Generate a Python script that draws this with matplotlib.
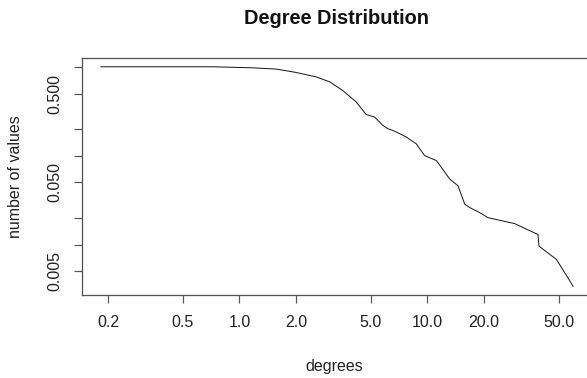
import matplotlib
matplotlib.use("Agg")
import matplotlib.pyplot as plt

# complementary cumulative degree distribution (log-log)
degrees = [0.183, 0.718, 1.17, 1.57, 2.0, 2.56, 3.02, 3.53, 4.18, 4.73, 5.24,
           5.80, 6.17, 6.56, 7.12, 7.73, 8.73, 9.68, 11.17, 11.88, 13.15, 14.56,
           15.81, 16.8, 19.0, 21.0, 29.2, 33.7, 38.8, 39.3, 48.7, 59.7]
fraction = [1.0, 1.0, 0.974, 0.942, 0.864, 0.770, 0.677, 0.545, 0.402, 0.290,
            0.272, 0.219, 0.201, 0.192, 0.177, 0.162, 0.136, 0.100, 0.0881,
            0.0739, 0.0547, 0.0459, 0.0285, 0.0261, 0.0229, 0.0201, 0.0172,
            0.0149, 0.0130, 0.0096, 0.0068, 0.0034]

x_ticks = [0.2, 0.5, 1, 2, 5, 10, 20, 50]
x_tick_labels = ["0.2", "0.5", "1.0", "2.0", "5.0", "10.0", "20.0", "50.0"]
y_ticks = [0.005, 0.01, 0.02, 0.05, 0.1, 0.2, 0.5, 1.0]
y_tick_labels = ["0.005", "", "", "0.050", "", "", "0.500", ""]

plt.rcParams["font.family"] = ["Liberation Sans", "DejaVu Sans"]

W, H = 587, 378
fig = plt.figure(figsize=(W / 72, H / 72), dpi=72)
# plot box runs a little past the right edge of the image
left, right, top, bottom = 82, 592, 58, 295
ax = fig.add_axes([left / W, 1 - bottom / H, (right - left) / W, (bottom - top) / H])

ax.plot(degrees, fraction, color="#1a1a1a", lw=1.0)
ax.set_xscale("log")
ax.set_yscale("log")
ax.margins(x=0.04, y=0.04)

ax.set_xticks(x_ticks)
ax.set_xticklabels(x_tick_labels)
ax.set_yticks(y_ticks)
ax.set_yticklabels(y_tick_labels, rotation=90, va="center")
ax.minorticks_off()
ax.tick_params(axis="both", length=8, width=1.2, color="#555555",
               labelsize=16, labelcolor="#222222")
ax.tick_params(axis="x", pad=12)
ax.tick_params(axis="y", pad=12)

for sp in ax.spines.values():
    sp.set_color("#555555")
    sp.set_linewidth(1.3)

ax.set_xlabel("degrees", fontsize=16, color="#222222", va="center")
ax.xaxis.set_label_coords(0.494, -(367 - bottom) / (bottom - top))
ax.set_ylabel("number of values", fontsize=16, color="#222222", va="center")
ax.yaxis.set_label_coords((15 - left) / (right - left), 0.5)

fig.text(336 / W, 1 - 18 / H, "Degree Distribution", ha="center", va="center",
         fontsize=20, fontweight="bold", color="#111111")

fig.savefig("out.png", dpi=72)
